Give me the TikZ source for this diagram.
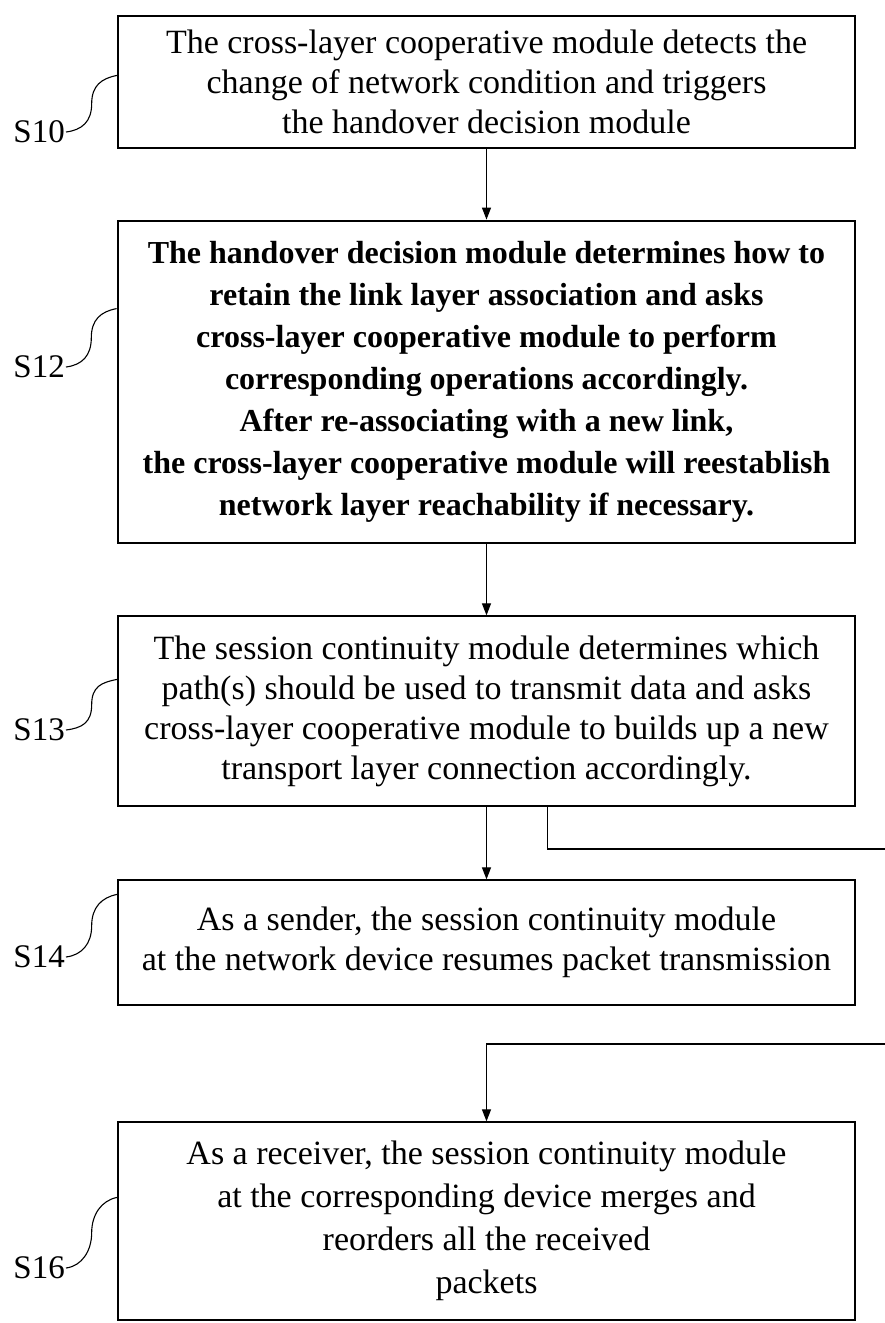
\documentclass[tikz,border=0pt]{standalone}
\usepackage{fontspec}
\setmainfont{Liberation Serif}
\usetikzlibrary{arrows.meta,calc}

\begin{document}
\begin{tikzpicture}[x=1pt,y=-1pt,
  box/.style={draw,line width=1.3pt,minimum width=737pt,inner sep=0pt,align=center,
    font=\fontsize{34}{40}\selectfont},
  boldbox/.style={box,line width=2.8pt,font=\fontsize{32}{42}\selectfont\bfseries},
  lbl/.style={anchor=east,inner sep=1pt,font=\fontsize{33}{36}\selectfont},
  arr/.style={line width=1.2pt,-{Triangle[length=12pt,width=9pt]}},
  link/.style={line width=1.2pt},
  lead/.style={line width=1.1pt,to path={
    .. controls ($(\tikztostart)+(16,-2)$) and ($(\tikztostart)!0.5!(\tikztotarget)+(0,18)$)
    .. ($(\tikztostart)!0.5!(\tikztotarget)$)
    .. controls ($(\tikztostart)!0.5!(\tikztotarget)+(0,-18)$) and ($(\tikztotarget)+(-16,3)$)
    .. (\tikztotarget)}}]

\useasboundingbox (0,0) rectangle (885,1323);

% process steps
\node[box,minimum height=132pt] (s10) at (486.5,82)
  {The cross-layer cooperative module detects the\\
   change of network condition and triggers\\
   the handover decision module};

\node[boldbox,minimum height=322pt] (s12) at (486.5,382)
  {The handover decision module determines how to\\
   retain the link layer association and asks\\
   cross-layer cooperative module to perform\\
   corresponding operations accordingly.\\
   After re-associating with a new link,\\
   the cross-layer cooperative module will reestablish\\
   network layer reachability if necessary.};

\node[box,minimum height=190pt] (s13) at (486.5,711)
  {The session continuity module determines which\\
   path(s) should be used to transmit data and asks\\
   cross-layer cooperative module to builds up a new\\
   transport layer connection accordingly.};

\node[box,minimum height=125pt] (s14) at (486.5,942.5)
  {As a sender, the session continuity module\\
   at the network device resumes packet transmission};

\node[box,minimum height=198pt,font=\fontsize{34}{43}\selectfont] (s16) at (486.5,1221)
  {As a receiver, the session continuity module\\
   at the corresponding device merges and\\
   reorders all the received\\
   packets};

% step labels and their leader curves
\node[lbl] (l10) at (66,132) {S10};
\node[lbl] (l12) at (66,367) {S12};
\node[lbl] (l13) at (66,730) {S13};
\node[lbl] (l14) at (66,957) {S14};
\node[lbl] (l16) at (66,1268) {S16};

\coordinate (t10) at ($(s10.north west)+(0,60)$);
\coordinate (t12) at ($(s12.north west)+(0,89)$);
\coordinate (t13) at ($(s13.north west)+(0,64)$);
\coordinate (t14) at ($(s14.north west)+(0,15)$);
\coordinate (t16) at ($(s16.north west)+(0,76)$);

\draw[lead] (l10.east) to (t10);
\draw[lead] (l12.east) to (t12);
\draw[lead] (l13.east) to (t13);
\draw[lead] (l14.east) to (t14);
\draw[lead] (l16.east) to (t16);

% flow
\draw[arr] (s10) -- (s12);
\draw[arr] (s12) -- (s13);
\draw[arr] (s13) -- (s14);

% branch leaving the sheet and path coming back in
\coordinate (b13) at ($(s13.south)+(61,0)$);
\coordinate (out1) at (885,849);
\coordinate (in2) at (885,1044);
\draw[link] (b13) |- (out1);
\draw[arr] (in2) -| (s16.north);
\end{tikzpicture}
\end{document}
